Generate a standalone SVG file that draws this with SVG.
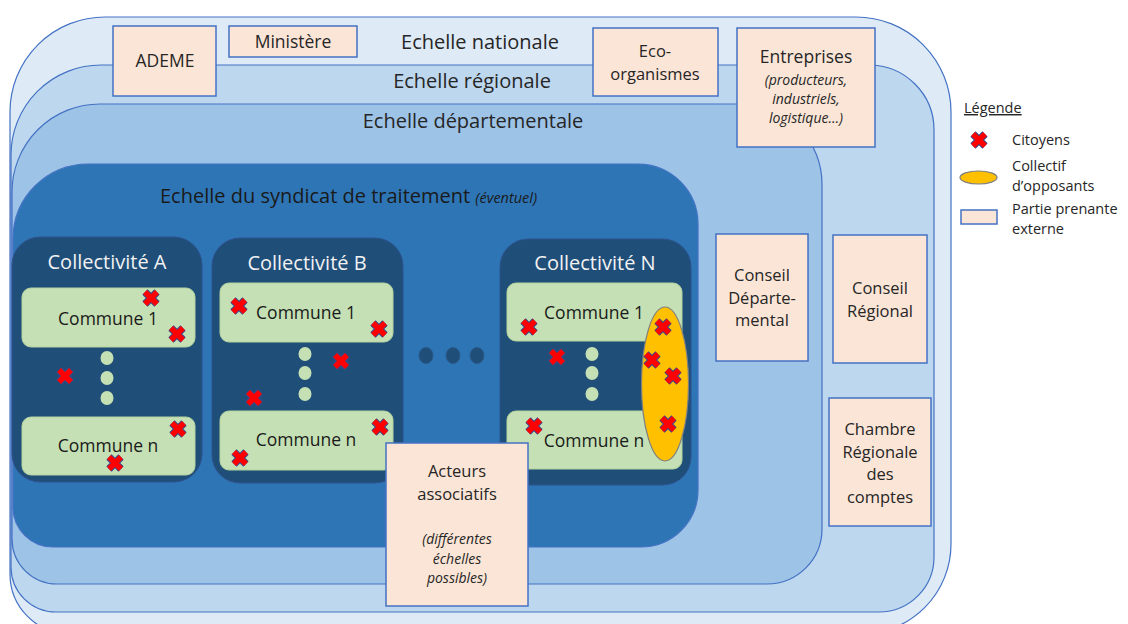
<svg xmlns="http://www.w3.org/2000/svg" xmlns:xlink="http://www.w3.org/1999/xlink" width="1128" height="624" viewBox="0 0 1128 624">
<style>
text{font-family:"Open Sans","Noto Sans","Liberation Sans",sans-serif;}
.scale{stroke:#4472c4;stroke-width:1.2;}
.ech{font-size:20px;fill:#262626;text-anchor:middle;}
.coll{fill:#1f4e79;stroke:#2f528f;stroke-width:1;}
.colt{font-size:20px;fill:#f2f2f2;text-anchor:middle;}
.com{fill:#c5e0b4;stroke:#b4d3a0;stroke-width:1;}
.comt{font-size:17.5px;fill:#1a1a1a;text-anchor:middle;}
.vdot{fill:#c5e0b4;}
.hdot{fill:#1f4e79;stroke:#2a5a8a;stroke-width:1;}
.box{fill:#fbe5d6;stroke:#4472c4;stroke-width:1.5;}
.bt{font-size:17.5px;fill:#262626;text-anchor:middle;}
.bm{font-size:16.5px;fill:#262626;text-anchor:middle;}
.bi{font-size:14px;font-style:italic;fill:#262626;text-anchor:middle;}
.leg{font-size:14.5px;fill:#262626;}
.opp{fill:#ffc000;stroke:#7f7f7f;stroke-width:1.2;}
</style>
<defs>
<g id="x">
<path d="M-6,-6 L6,6 M-6,6 L6,-6" stroke="#3b4a8c" stroke-width="7.5" fill="none"/>
<path d="M-6,-6 L6,6 M-6,6 L6,-6" stroke="#ff0000" stroke-width="5.5" fill="none"/>
</g>
</defs>
<rect width="1128" height="624" fill="#ffffff"/>

<g id="echelle-nationale">
<path class="scale" fill="#deebf7" d="M105,17 H856 A95 95 0 0 1 951,112 V544 A90 90 0 0 1 861,634 H70 A60 60 0 0 1 10,574 V112 A95 95 0 0 1 105,17 Z"/>
<text class="ech" x="480" y="49">Echelle nationale</text>
</g>
<g id="echelle-regionale">
<path class="scale" fill="#bdd7ee" d="M101,65 H869 A65 65 0 0 1 934,130 V557 A55 55 0 0 1 879,612 H56 A45 45 0 0 1 11,567 V155 A90 90 0 0 1 101,65 Z"/>
<text class="ech" x="472" y="88">Echelle régionale</text>
</g>
<g id="echelle-departementale">
<path class="scale" fill="#9dc3e6" d="M100,104 H742 A80 80 0 0 1 822,184 V529 A55 55 0 0 1 767,584 H57 A45 45 0 0 1 12,539 V192 A88 88 0 0 1 100,104 Z"/>
<text class="ech" x="473" y="128">Echelle départementale</text>
</g>
<g id="echelle-syndicat">
<path class="scale" fill="#2e75b6" d="M88,164 H638 A60 60 0 0 1 698,224 V490 A57 57 0 0 1 641,547 H53 A40 40 0 0 1 13,507 V239 A75 75 0 0 1 88,164 Z"/>
<text x="160" y="203" font-size="20" fill="#1a1a1a">Echelle du syndicat de traitement <tspan font-size="14.5" font-style="italic">(éventuel)</tspan></text>
</g>

<g id="collectivite-a">
<rect class="coll" x="12" y="237" width="190" height="245" rx="28"/>
<text class="colt" x="107" y="269">Collectivité A</text>
<rect class="com" x="22" y="288" width="173" height="59" rx="9"/>
<text class="comt" x="108" y="325">Commune 1</text>
<ellipse class="vdot" cx="107" cy="358" rx="6.5" ry="7"/>
<ellipse class="vdot" cx="107" cy="378" rx="6.5" ry="7"/>
<ellipse class="vdot" cx="107" cy="398" rx="6.5" ry="7"/>
<rect class="com" x="22" y="417" width="173" height="58" rx="9"/>
<text class="comt" x="108" y="452">Commune n</text>
</g>

<g id="collectivite-b">
<rect class="coll" x="212" y="238" width="191" height="245" rx="28"/>
<text class="colt" x="307" y="270">Collectivité B</text>
<rect class="com" x="220" y="283" width="173" height="59" rx="9"/>
<text class="comt" x="306" y="319">Commune 1</text>
<ellipse class="vdot" cx="305" cy="354" rx="6.5" ry="7"/>
<ellipse class="vdot" cx="305" cy="373" rx="6.5" ry="7"/>
<ellipse class="vdot" cx="305" cy="394" rx="6.5" ry="7"/>
<rect class="com" x="220" y="411" width="173" height="59" rx="9"/>
<text class="comt" x="306" y="446">Commune n</text>
</g>

<g id="points-suspension">
<ellipse class="hdot" cx="426" cy="355.5" rx="7" ry="8"/>
<ellipse class="hdot" cx="453" cy="355.5" rx="7" ry="8"/>
<ellipse class="hdot" cx="477" cy="355.5" rx="7" ry="8"/>
</g>

<g id="collectivite-n">
<rect class="coll" x="500" y="239" width="191" height="246" rx="28"/>
<text class="colt" x="595" y="270">Collectivité N</text>
<rect class="com" x="507" y="283" width="175" height="58" rx="9"/>
<text class="comt" x="594" y="319">Commune 1</text>
<ellipse class="vdot" cx="592" cy="354" rx="6.5" ry="7"/>
<ellipse class="vdot" cx="592" cy="373" rx="6.5" ry="7"/>
<ellipse class="vdot" cx="592" cy="394" rx="6.5" ry="7"/>
<rect class="com" x="507" y="411" width="175" height="58" rx="9"/>
<text class="comt" x="594" y="447">Commune n</text>
</g>

<g id="citoyens">
<use xlink:href="#x" x="151" y="298"/>
<use xlink:href="#x" x="177" y="334"/>
<use xlink:href="#x" x="65" y="376"/>
<use xlink:href="#x" x="178" y="429"/>
<use xlink:href="#x" x="115" y="463"/>
<use xlink:href="#x" x="239" y="306"/>
<use xlink:href="#x" x="379" y="329"/>
<use xlink:href="#x" x="341" y="361"/>
<use xlink:href="#x" x="254" y="398"/>
<use xlink:href="#x" x="380" y="427"/>
<use xlink:href="#x" x="240" y="458"/>
<use xlink:href="#x" x="529" y="327"/>
<use xlink:href="#x" x="557" y="357"/>
<use xlink:href="#x" x="534" y="426"/>
</g>

<g id="collectif-opposants">
<ellipse class="opp" cx="665" cy="384" rx="23.5" ry="77"/>
<use xlink:href="#x" x="663" y="327"/>
<use xlink:href="#x" x="652" y="360"/>
<use xlink:href="#x" x="673" y="376"/>
<use xlink:href="#x" x="668" y="424"/>
</g>

<g id="ademe">
<rect class="box" x="113" y="26" width="103" height="70"/>
<text class="bt" x="165" y="67">ADEME</text>
</g>
<g id="ministere">
<rect class="box" x="229" y="26" width="128" height="31"/>
<text class="bt" x="293" y="48">Ministère</text>
</g>
<g id="eco-organismes">
<rect class="box" x="593" y="28" width="125" height="68"/>
<text class="bm" x="655" y="57">Eco-</text>
<text class="bm" x="655" y="79.5">organismes</text>
</g>
<g id="entreprises">
<rect class="box" x="737" y="28" width="138" height="119"/>
<text class="bt" x="806" y="63">Entreprises</text>
<text class="bi" x="806" y="85">(producteurs,</text>
<text class="bi" x="806" y="104">industriels,</text>
<text class="bi" x="806" y="123">logistique…)</text>
</g>
<g id="conseil-departemental">
<rect class="box" x="716" y="234" width="92" height="127"/>
<text class="bm" x="762" y="281">Conseil</text>
<text class="bm" x="762" y="303.5">Départe-</text>
<text class="bm" x="762" y="326">mental</text>
</g>
<g id="conseil-regional">
<rect class="box" x="833" y="235" width="94" height="128"/>
<text class="bm" x="880" y="294">Conseil</text>
<text class="bm" x="880" y="316.5">Régional</text>
</g>
<g id="chambre-regionale">
<rect class="box" x="829" y="398" width="102" height="128"/>
<text class="bm" x="880" y="435">Chambre</text>
<text class="bm" x="880" y="457.5">Régionale</text>
<text class="bm" x="880" y="480">des</text>
<text class="bm" x="880" y="502.5">comptes</text>
</g>
<g id="acteurs-associatifs">
<rect class="box" x="386" y="443" width="142" height="163"/>
<text class="bm" x="457" y="477">Acteurs</text>
<text class="bm" x="457" y="499.5">associatifs</text>
<text class="bi" x="457" y="544">(différentes</text>
<text class="bi" x="457" y="563.5">échelles</text>
<text class="bi" x="457" y="583">possibles)</text>
</g>

<g id="legende">
<text class="leg" x="964" y="113" text-decoration="underline">Légende</text>
<use xlink:href="#x" x="979" y="140"/>
<text class="leg" x="1012" y="145">Citoyens</text>
<ellipse class="opp" cx="978.5" cy="177.5" rx="18.5" ry="6.5"/>
<text class="leg" x="1012" y="170.5">Collectif</text>
<text class="leg" x="1012" y="190.5">d’opposants</text>
<rect class="box" x="961" y="210" width="36" height="14" stroke-width="1.2"/>
<text class="leg" x="1012" y="214">Partie prenante</text>
<text class="leg" x="1012" y="234">externe</text>
</g>
</svg>
